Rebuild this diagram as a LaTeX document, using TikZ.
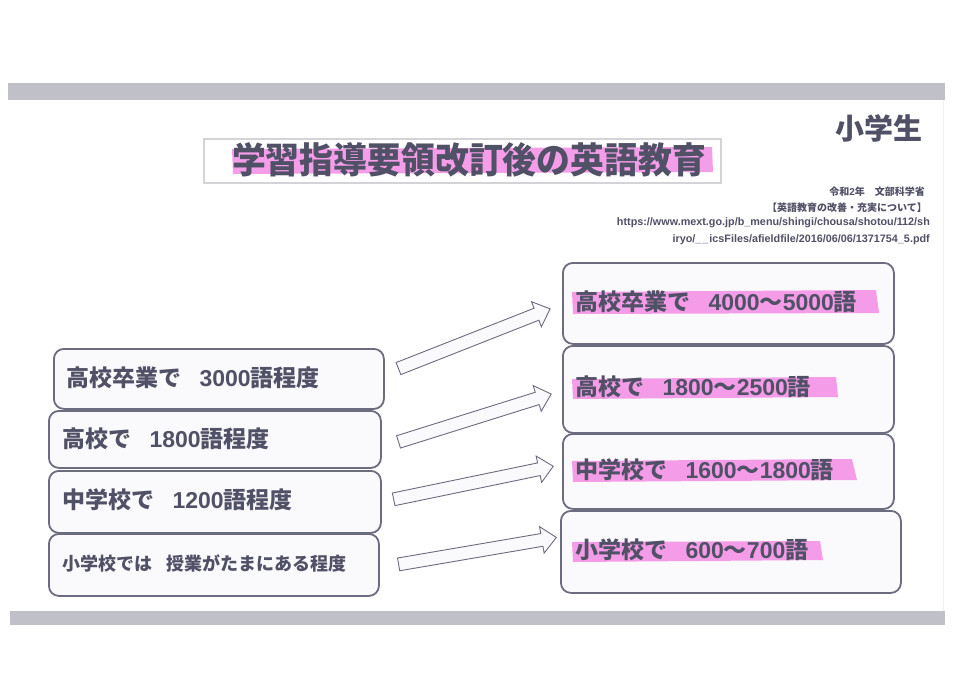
\documentclass[tikz,border=0pt]{standalone}
\usepackage{fontspec}
\setmainfont{Noto Sans CJK JP}
\newfontfamily\lat{Liberation Sans}
\newcommand\dg[1]{{\lat #1}}
\newcommand\gap{\hspace{0.8em}}
\usetikzlibrary{shapes.arrows,calc}
\definecolor{ink}{RGB}{80,80,102}
\definecolor{edge}{RGB}{108,108,128}
\definecolor{hl}{RGB}{243,140,228}
\definecolor{band}{RGB}{192,192,200}
\definecolor{boxfill}{RGB}{250,250,252}
\definecolor{titleedge}{RGB}{212,212,216}
\begin{document}
\begin{tikzpicture}[x=1pt,y=-1pt,
  box/.style={draw=edge, line width=1.8pt, rounded corners=10pt, fill=boxfill, anchor=north west, inner sep=0pt},
  lbl/.style={anchor=west, inner sep=0pt, text=ink, font=\bfseries\fontsize{23}{25}\selectfont},
  small/.style={anchor=west, inner sep=0pt, text=ink, font=\bfseries\fontsize{18}{20}\selectfont},
  cite/.style={anchor=east, inner sep=0pt, text=ink, font=\bfseries\fontsize{10}{12}\selectfont},
  citeurl/.style={anchor=east, inner sep=0pt, text=ink, font=\lat\bfseries\fontsize{10.8}{12}\selectfont},
  blockarrow/.style={single arrow, draw=edge, line width=0.9pt, fill=boxfill, inner sep=6pt,
    single arrow head extend=7pt, single arrow tip angle=85, anchor=center},
  hlbar/.style={fill=hl, opacity=0.85}
]
\useasboundingbox (0,0) rectangle (960,678);
\fill[white] (0,0) rectangle (960,678);
% bands
\fill[band] (8,83) rectangle (945,100);
\fill[band] (10,611) rectangle (945,625);
\draw[gray!12, line width=0.8pt] (943,100) -- (943,611);

% title
\node[draw=titleedge, line width=1.6pt, minimum width=517pt, minimum height=44pt, anchor=north west, inner sep=0pt] (titlebox) at (203,138) {};
\fill[hlbar] (232,149) -- (712,147) -- (713,172) -- (233,174) -- cycle;
\node[anchor=center, inner sep=0pt, text=ink, font=\bfseries\fontsize{36}{38}\selectfont] (title) at (469,160) {\scalebox{0.94}[1]{学習指導要領改訂後の英語教育}};

\node[anchor=east, inner sep=0pt, text=ink, font=\bfseries\fontsize{29}{32}\selectfont] (grade) at (923,128) {小学生};

\node[cite] (c1) at (925,192) {令和\dg{2}年　文部科学省};
\node[cite] (c2) at (927,208) {【英語教育の改善・充実について】};
\node[citeurl] (c3) at (930,223) {https://www.mext.go.jp/b\_menu/shingi/chousa/shotou/112/sh};
\node[citeurl] (c4) at (930,240) {iryo/\_\hspace{1pt}\_\hspace{1pt}icsFiles/afieldfile/2016/06/06/1371754\_5.pdf};

% left boxes
\node[box, minimum width=330pt, minimum height=60pt] (L1) at (53,348) {};
\node[box, minimum width=332pt, minimum height=57pt] (L2) at (48,410) {};
\node[box, minimum width=332pt, minimum height=62pt] (L3) at (48,470) {};
\node[box, minimum width=330pt, minimum height=62pt] (L4) at (48,533) {};
\node[lbl] (l1) at (66,378) {高校卒業で\gap\dg{3000}語程度};
\node[lbl] (l2) at (62,439) {高校で\gap\dg{1800}語程度};
\node[lbl] (l3) at (62,500) {中学校で\gap\dg{1200}語程度};
\node[small] (l4) at (62,563) {小学校では\gap 授業がたまにある程度};

% right boxes
\node[box, minimum width=331pt, minimum height=81pt] (R1) at (562,262) {};
\node[box, minimum width=331pt, minimum height=87pt] (R2) at (562,345) {};
\node[box, minimum width=331pt, minimum height=75pt] (R3) at (562,433) {};
\node[box, minimum width=340pt, minimum height=82pt] (R4) at (560,510) {};

\fill[hlbar] (572,292) -- (876,290) -- (879,313) -- (573,314) -- cycle;
\fill[hlbar] (572,379) -- (836,377) -- (838,397) -- (573,399) -- cycle;
\fill[hlbar] (572,461) -- (852,459) -- (857,480) -- (573,482) -- cycle;
\fill[hlbar] (572,542) -- (820,541) -- (823,560) -- (573,562) -- cycle;

\node[lbl] (r1) at (575,302) {高校卒業で\gap\dg{4000}～\dg{5000}語};
\node[lbl] (r2) at (575,387) {高校で\gap\dg{1800}～\dg{2500}語};
\node[lbl] (r3) at (575,470) {中学校で\gap\dg{1600}～\dg{1800}語};
\node[lbl] (r4) at (575,550) {小学校で\gap\dg{600}～\dg{700}語};

% arrows
\coordinate (t1) at (395,370); \coordinate (h1) at (547,310);
\coordinate (t2) at (395,443); \coordinate (h2) at (548,395);
\coordinate (t3) at (390,500); \coordinate (h3) at (550,467);
\coordinate (t4) at (395,565); \coordinate (h4) at (553,538);
\node[blockarrow, minimum height=163pt, rotate=21.5] (a1) at ($(t1)!0.5!(h1)$) {};
\node[blockarrow, minimum height=160pt, rotate=17.4] (a2) at ($(t2)!0.5!(h2)$) {};
\node[blockarrow, minimum height=163pt, rotate=11.7] (a3) at ($(t3)!0.5!(h3)$) {};
\node[blockarrow, minimum height=160pt, rotate=9.7] (a4) at ($(t4)!0.5!(h4)$) {};
\end{tikzpicture}
\end{document}
